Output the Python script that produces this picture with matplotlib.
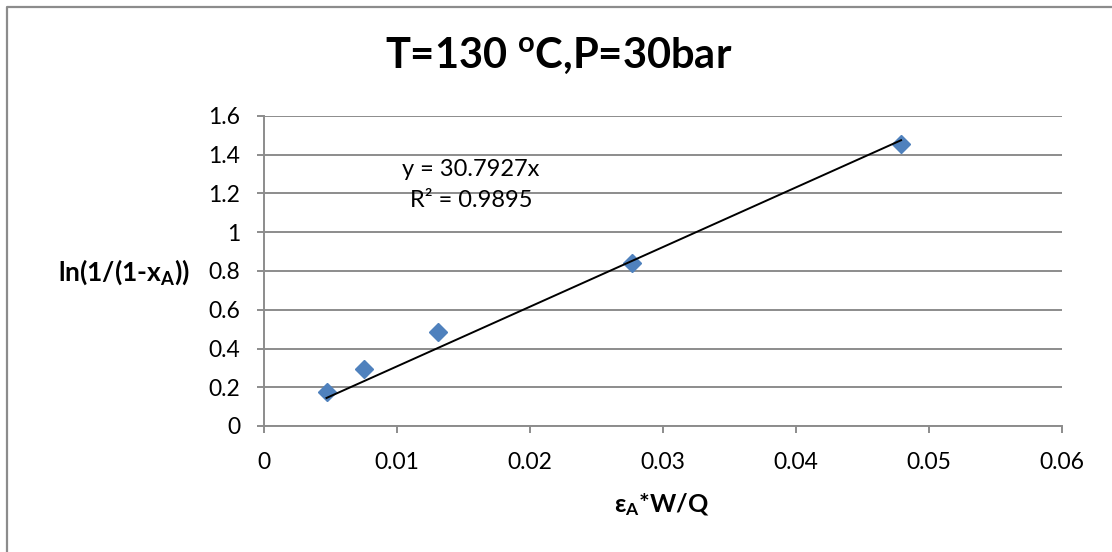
import numpy as np
import matplotlib
matplotlib.use("Agg")
import matplotlib.pyplot as plt
from matplotlib.lines import Line2D

plt.rcParams['font.family'] = ['Lato', 'DejaVu Sans']
plt.rcParams['mathtext.fontset'] = 'custom'
plt.rcParams['mathtext.rm'] = 'Lato'
plt.rcParams['mathtext.it'] = 'Lato'
plt.rcParams['mathtext.bf'] = 'Lato:bold'

# data
eps_w_q = [0.0047, 0.0075, 0.0131, 0.0277, 0.0479]
ln_term = [0.175, 0.292, 0.487, 0.840, 1.455]
slope = 30.7927
r2 = 0.9895

W, H = 1112, 552
fig = plt.figure(figsize=(W/100, H/100), dpi=100)
ax = fig.add_axes([264/W, 1 - 426/H, (1062-264)/W, (426-116)/H])

x = np.array(eps_w_q)
xs = np.array([x.min(), x.max()])
ax.plot(xs, slope*xs, color="black", lw=1.4, zorder=3)
ax.plot(x, ln_term, ls="none", marker="D", markersize=9.5, color="#4F81BD", zorder=2)

ax.set_xlim(0, 0.06)
ax.set_ylim(0, 1.6)
ax.set_xticks(np.arange(0, 0.061, 0.01))
ax.set_xticklabels(["0", "0.01", "0.02", "0.03", "0.04", "0.05", "0.06"])
ax.set_yticks(np.arange(0, 1.61, 0.2))
ax.set_yticklabels(["0", "0.2", "0.4", "0.6", "0.8", "1", "1.2", "1.4", "1.6"])
ax.yaxis.grid(color="#8c8c8c", lw=1.4)
ax.set_axisbelow(True)
for s in ("top", "right"):
    ax.spines[s].set_visible(False)
for s in ("left", "bottom"):
    ax.spines[s].set_color("#8c8c8c")
    ax.spines[s].set_linewidth(1.4)
ax.tick_params(colors="#8c8c8c", labelcolor="black", labelsize=16.5, length=5, width=1.4)
ax.tick_params(axis="x", pad=14)
ax.tick_params(axis="y", pad=12)

fig.text(559/W, 1 - 56/H, r"T=130 $^{\mathbf{o}}$C,P=30bar", ha="center", va="center",
         fontsize=30, fontweight="bold")
fig.text(124/W, 1 - 272/H, r"ln(1/(1-x$_{\mathbf{A}}$))", ha="center", va="center",
         fontsize=19, fontweight="bold")
fig.text(662/W, 1 - 505/H, r"ε$_{\mathbf{A}}$*W/Q", ha="center", va="center",
         fontsize=18, fontweight="bold")
ax.text(0.01555, 1.326, "y = %.4fx" % slope, ha="center", va="center", fontsize=17)
ax.text(0.01555, 1.166, "R² = %.4f" % r2, ha="center", va="center", fontsize=17)

# chart border (only left and top edges are visible in the reference)
fig.lines.append(Line2D([7/W, 7/W, 1], [0, 1 - 7/H, 1 - 7/H], transform=fig.transFigure,
                        color="#8c8c8c", lw=1.6))

fig.savefig("out.png", dpi=100)
